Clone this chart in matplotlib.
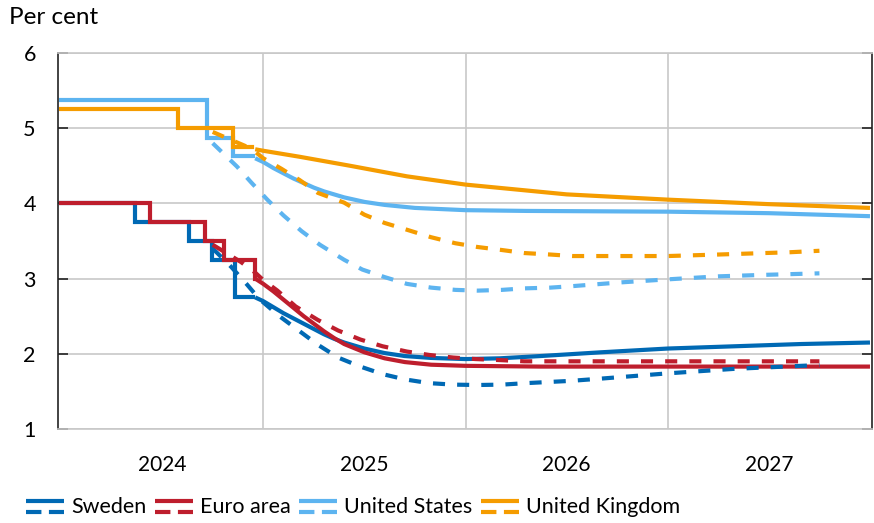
import numpy as np
import matplotlib
matplotlib.use("Agg")
import matplotlib.pyplot as plt
from matplotlib.lines import Line2D
from matplotlib.legend_handler import HandlerBase

# -----------------------
# Data (decimal years, per cent)
# -----------------------
names = ["Sweden", "Euro area", "United States", "United Kingdom"]
colors = ["#0069B4", "#BE1E2D", "#5DB4F0", "#F59C00"]

# policy rates so far (step functions)
se_step_x = [2024.0, 2024.366, 2024.634, 2024.746, 2024.861, 2024.950]
se_step_y = [4.0, 3.75, 3.5, 3.25, 2.75, 2.75]
ea_step_x = [2024.0, 2024.441, 2024.713, 2024.807, 2024.960]
ea_step_y = [4.0, 3.75, 3.5, 3.25, 3.0]
us_step_x = [2024.0, 2024.723, 2024.851, 2024.950]
us_step_y = [5.375, 4.875, 4.625, 4.625]
uk_step_x = [2024.0, 2024.579, 2024.851, 2024.946]
uk_step_y = [5.25, 5.0, 4.75, 4.75]

# current forecasts / expectations (solid)
se_new_x = [2024.96, 2025.0, 2025.05, 2025.1, 2025.15, 2025.2, 2025.25, 2025.3, 2025.35, 2025.4,
            2025.5, 2025.6, 2025.7, 2025.83, 2026.0, 2026.17, 2026.37, 2026.67, 2027.0,
            2027.33, 2027.66, 2028.0]
se_new_y = [2.75, 2.70, 2.62, 2.54, 2.47, 2.40, 2.33, 2.26, 2.20, 2.15,
            2.07, 2.01, 1.97, 1.945, 1.93, 1.94, 1.97, 2.02, 2.07,
            2.10, 2.13, 2.15]
ea_new_x = [2024.96, 2025.0, 2025.05, 2025.1, 2025.15, 2025.2, 2025.25, 2025.3, 2025.35, 2025.4,
            2025.5, 2025.6, 2025.7, 2025.83, 2026.0, 2026.37, 2027.0, 2028.0]
ea_new_y = [3.0, 2.93, 2.83, 2.72, 2.61, 2.50, 2.40, 2.30, 2.21, 2.13,
            2.02, 1.94, 1.89, 1.855, 1.84, 1.83, 1.83, 1.83]
us_new_x = [2024.96, 2025.0, 2025.05, 2025.1, 2025.15, 2025.2, 2025.25, 2025.3, 2025.4,
            2025.5, 2025.6, 2025.75, 2026.0, 2026.3, 2027.0, 2027.5, 2028.0]
us_new_y = [4.60, 4.55, 4.47, 4.40, 4.33, 4.27, 4.21, 4.16, 4.08,
            4.02, 3.98, 3.94, 3.91, 3.90, 3.89, 3.87, 3.83]
uk_new_x = [2024.96, 2025.0, 2025.18, 2025.43, 2025.71, 2026.0, 2026.27, 2026.5,
            2027.0, 2027.5, 2028.0]
uk_new_y = [4.72, 4.70, 4.62, 4.50, 4.36, 4.25, 4.18, 4.12,
            4.05, 3.99, 3.94]

# previous expectations (dashed)
se_old_x = [2024.75, 2024.84, 2024.92, 2024.98, 2025.08, 2025.18, 2025.27, 2025.37, 2025.48,
            2025.59, 2025.70, 2025.82, 2025.94, 2026.06, 2026.18, 2026.30, 2026.52, 2026.67,
            2027.0, 2027.33, 2027.66, 2027.75]
se_old_y = [3.40, 3.16, 2.92, 2.73, 2.50, 2.30, 2.12, 1.95, 1.83,
            1.73, 1.66, 1.61, 1.59, 1.585, 1.59, 1.61, 1.64, 1.67,
            1.74, 1.80, 1.84, 1.85]
ea_old_x = [2024.75, 2024.89, 2024.96, 2025.0, 2025.07, 2025.16, 2025.27, 2025.37, 2025.48,
            2025.59, 2025.71, 2025.82, 2025.94, 2026.05, 2026.18, 2026.29, 2027.0, 2027.75]
ea_old_y = [3.45, 3.22, 3.08, 2.98, 2.84, 2.63, 2.45, 2.31, 2.19,
            2.10, 2.03, 1.985, 1.95, 1.93, 1.915, 1.90, 1.90, 1.90]
us_old_x = [2024.75, 2024.87, 2024.94, 2025.02, 2025.10, 2025.19, 2025.28, 2025.40, 2025.49,
            2025.60, 2025.71, 2025.83, 2025.95, 2026.06, 2026.18, 2026.29, 2026.42, 2026.53,
            2026.77, 2027.0, 2027.25, 2027.48, 2027.75]
us_old_y = [4.80, 4.49, 4.28, 4.05, 3.84, 3.63, 3.45, 3.25, 3.12,
            3.02, 2.93, 2.88, 2.85, 2.84, 2.85, 2.87, 2.88, 2.90,
            2.95, 2.99, 3.03, 3.05, 3.07]
uk_old_x = [2024.75, 2024.94, 2025.0, 2025.09, 2025.18, 2025.27, 2025.40, 2025.50, 2025.60,
            2025.71, 2025.83, 2025.95, 2026.06, 2026.18, 2026.29, 2026.42, 2026.53, 2026.77,
            2027.0, 2027.25, 2027.48, 2027.60, 2027.75]
uk_old_y = [4.95, 4.73, 4.60, 4.46, 4.31, 4.14, 4.01, 3.85, 3.74,
            3.65, 3.55, 3.47, 3.42, 3.38, 3.34, 3.32, 3.30, 3.30,
            3.30, 3.32, 3.34, 3.35, 3.37]

years = [2024, 2025, 2026, 2027]

# -----------------------
# Style
# -----------------------
plt.rcParams['font.family'] = ['Lato', 'DejaVu Sans']
plt.rcParams['font.size'] = 15
LW = 3.0
DASH = (2.9, 2.9)

fig = plt.figure(figsize=(8.74, 5.23), dpi=100)
ax = fig.add_axes([58 / 874, 1 - 429 / 523, (872 - 58) / 874, (429 - 53) / 523])

steps = [(se_step_x, se_step_y), (ea_step_x, ea_step_y), (us_step_x, us_step_y), (uk_step_x, uk_step_y)]
news = [(se_new_x, se_new_y), (ea_new_x, ea_new_y), (us_new_x, us_new_y), (uk_new_x, uk_new_y)]
olds = [(se_old_x, se_old_y), (ea_old_x, ea_old_y), (us_old_x, us_old_y), (uk_old_x, uk_old_y)]

for (sx, sy), (nx, ny), c in zip(steps, news, colors):
    ax.step(sx, sy, where='post', color=c, lw=LW, solid_joinstyle='miter')
    ax.plot(nx, ny, color=c, lw=LW, solid_capstyle='butt', solid_joinstyle='round')
for (ox, oy), c in zip(olds, colors):
    ax.plot(ox, oy, color=c, lw=LW, dashes=DASH, dash_capstyle='butt')

ax.set_xlim(2023.985, 2028.01)
ax.set_ylim(1, 6)

# axes frame
for s in ['top', 'bottom']:
    ax.spines[s].set_color('#C8C8C8')
    ax.spines[s].set_linewidth(1.2)
for s in ['left', 'right']:
    ax.spines[s].set_color('#222222')
    ax.spines[s].set_linewidth(1.2)

ax.set_yticks([1, 2, 3, 4, 5, 6])
ax.tick_params(axis='y', which='major', direction='in', length=7, width=1.2,
               color='#222222', left=True, right=True, pad=16, labelsize=15.5)
ax.yaxis.grid(True, color='#C8C8C8', lw=1.2)

ax.set_xticks([2025, 2026, 2027])
ax.set_xticklabels([])
ax.set_xticks([y + 0.5 for y in years], minor=True)
ax.set_xticklabels([str(y) for y in years], minor=True)
ax.tick_params(axis='x', which='both', length=0, pad=19, labelsize=15)
ax.xaxis.grid(True, which='major', color='#C8C8C8', lw=1.2)
ax.set_axisbelow(True)

fig.text(9 / 874, 1 - 17 / 523, "Per cent", fontsize=17.5, va='center', ha='left')


# -----------------------
# Legend: solid over dashed key for each country
# -----------------------
class SolidDashHandler(HandlerBase):
    def create_artists(self, legend, orig_handle, xdescent, ydescent,
                       width, height, fontsize, trans):
        c = orig_handle.get_color()
        x0, x1 = -xdescent, -xdescent + width
        top = Line2D([x0, x1], [height * 0.78, height * 0.78], color=c, lw=LW,
                     solid_capstyle='butt', transform=trans)
        bot = Line2D([x0, x1], [height * 0.05, height * 0.05], color=c, lw=LW,
                     dashes=(3.7, 1.8), dash_capstyle='butt', transform=trans)
        return [top, bot]


handles = [Line2D([], [], color=c) for c in colors]
fig.legend(handles, names, handler_map={Line2D: SolidDashHandler()},
           loc='center left', bbox_to_anchor=(26 / 874, 1 - 507 / 523),
           ncol=4, frameon=False, borderpad=0, borderaxespad=0,
           handlelength=1.75, handletextpad=0.34, columnspacing=0.4, fontsize=15.5)

fig.savefig("out.png", dpi=100)
